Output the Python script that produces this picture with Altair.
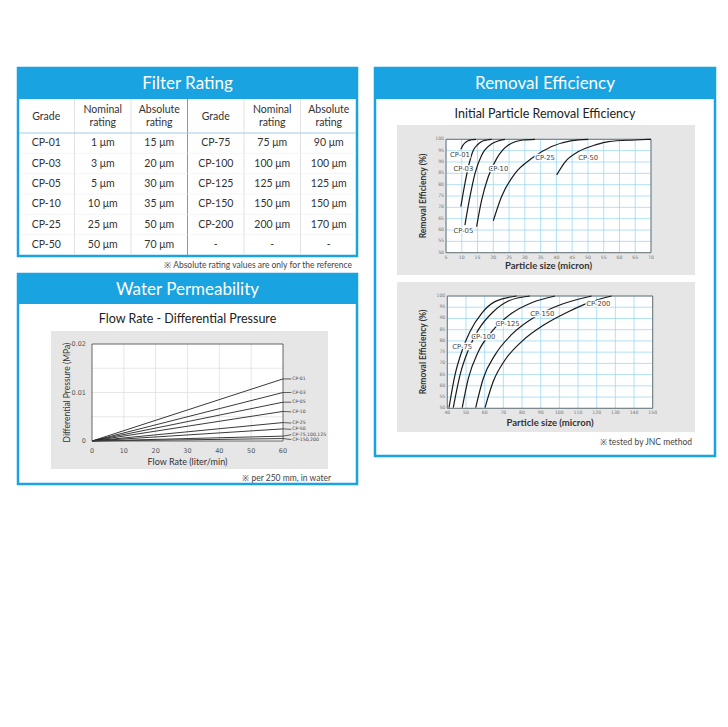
import altair as alt
import pandas as pd

# ---------------- data ----------------
table_header = ["Grade", "Nominal\nrating", "Absolute\nrating", "Grade", "Nominal\nrating", "Absolute\nrating"]
grade_left = ["CP-01", "CP-03", "CP-05", "CP-10", "CP-25", "CP-50"]
nominal_left = ["1 μm", "3 μm", "5 μm", "10 μm", "25 μm", "50 μm"]
absolute_left = ["15 μm", "20 μm", "30 μm", "35 μm", "50 μm", "70 μm"]
grade_right = ["CP-75", "CP-100", "CP-125", "CP-150", "CP-200", "-"]
nominal_right = ["75 μm", "100 μm", "125 μm", "150 μm", "200 μm", "-"]
absolute_right = ["90 μm", "100 μm", "125 μm", "150 μm", "170 μm", "-"]

wp_series = ["CP-01", "CP-03", "CP-05", "CP-10", "CP-25", "CP-50", "CP-75,100,125", "CP-150,200"]
wp_end = [0.0128, 0.0100, 0.0080, 0.0061, 0.0038, 0.0025, 0.0010, 0.0005]
wp_label_y = [0.0128, 0.0100, 0.0080, 0.0060, 0.0037, 0.0024, 0.0013, 0.0003]
wp_flow = [0, 60]
wp_x_ticks = [0, 10, 20, 30, 40, 50, 60]
wp_y_ticks = [0, 0.01, 0.02]
wp_y_tick_text = ["0", "0.01", "0.02"]
wp_x_grid = [10, 20, 30, 40, 50]
wp_y_grid = [0.005, 0.01, 0.015]

# removal efficiency, small grades
cp01_size = [9.7, 10.3, 11.0, 12.0, 13.0, 14.5]
cp01_eff = [95.6, 97.2, 98.4, 99.4, 99.8, 100]
cp03_size = [9.7, 10.8, 12.1, 13.7, 15.0, 16.3, 18.0, 19.5]
cp03_eff = [70.3, 79.0, 87.9, 95.3, 97.6, 99.0, 99.7, 100]
cp05_size = [11.0, 12.6, 14.2, 16.3, 19.5, 23.7]
cp05_eff = [62.2, 74.7, 85.0, 93.0, 98.0, 100]
cp10_size = [14.7, 16.3, 18.4, 21.1, 24.8, 29.5, 33.2]
cp10_eff = [61.5, 73.2, 83.5, 91.6, 97.5, 99.7, 100]
cp25_size = [20.0, 22.6, 26.9, 32.2, 38.5, 44.9, 50.1]
cp25_eff = [64.1, 74.7, 85.0, 91.6, 96.8, 99.4, 100]
cp50_size = [40.1, 42.8, 47.0, 52.3, 56.5, 64.9, 70.0]
cp50_eff = [84.3, 90.1, 94.6, 97.5, 99.0, 99.7, 100]
re1_labels = ["CP-01", "CP-03", "CP-05", "CP-10", "CP-25", "CP-50"]
re1_label_x = [9.4, 10.5, 10.5, 21.6, 36.4, 50.1]
re1_label_y = [93.1, 86.8, 59.7, 86.8, 91.9, 91.9]
re1_x_ticks = [5, 10, 15, 20, 25, 30, 35, 40, 45, 50, 55, 60, 65, 70]
re_y_ticks = [50, 55, 60, 65, 70, 75, 80, 85, 90, 95, 100]

# removal efficiency, large grades
cp75_size = [40.9, 44.1, 47.7, 52.1, 58.4, 65.5, 77.1]
cp75_eff = [50.3, 64.8, 75.2, 84.1, 92.3, 97.5, 100]
cp100_size = [43.2, 46.8, 51.3, 56.6, 64.6, 72.7, 84.3]
cp100_eff = [50.3, 64.8, 76.0, 84.9, 93.0, 97.8, 100]
cp125_size = [48.0, 51.3, 56.6, 63.8, 74.5, 85.2, 97.7]
cp125_eff = [50.3, 63.4, 75.2, 84.1, 92.3, 97.0, 100]
cp150_size = [55.2, 59.3, 65.5, 74.5, 87.0, 101.3, 117.3]
cp150_eff = [50.3, 63.4, 73.7, 82.9, 90.8, 96.3, 100]
cp200_size = [60.2, 64.6, 70.9, 79.8, 92.3, 104.8, 117.3, 128.0]
cp200_eff = [50.3, 61.9, 71.5, 79.7, 87.4, 93.0, 97.5, 100]
re2_labels = ["CP-75", "CP-100", "CP-125", "CP-150", "CP-200"]
re2_label_x = [48.0, 59.3, 72.3, 90.9, 120.9]
re2_label_y = [77.2, 81.9, 87.4, 92.0, 96.4]
re2_x_ticks = [40, 50, 60, 70, 80, 90, 100, 110, 120, 130, 140, 150]

# ---------------- styling ----------------
BLUE = "#19A3E1"
GRAY_PANEL = "#e6e6e6"
GRID_BLUE = "#8fd4f0"
TITLE_FONT = "Lato"
PLOT_FONT = "DejaVu Sans"
W, H = 712, 711
OFF = 8


def P(v):
    return v - OFF


one = pd.DataFrame({"k": [0]})


def rect(x0, y0, x1, y1, **kw):
    return alt.Chart(one).mark_rect(**kw).encode(
        x=alt.value(P(x0)), x2=alt.value(P(x1)), y=alt.value(P(y0)), y2=alt.value(P(y1)))


def rule(x0, y0, x1, y1, **kw):
    return alt.Chart(one).mark_rule(**kw).encode(
        x=alt.value(P(x0)), x2=alt.value(P(x1)), y=alt.value(P(y0)), y2=alt.value(P(y1)))


def label(x, y, text, **kw):
    return alt.Chart(one).mark_text(text=text, **kw).encode(x=alt.value(P(x)), y=alt.value(P(y)))


layers = []

# ---------------- frames ----------------
for (x0, y0, x1, y1, tb) in [(18, 68, 357, 256, 99), (18, 274, 357, 484, 304), (375, 68, 715, 456, 99)]:
    layers.append(rect(x0, y0, x1, y1, fill="white", stroke=BLUE, strokeWidth=2.5))
    layers.append(rect(x0, y0, x1, tb, fill=BLUE))

layers.append(label(187.5, 84, "Filter Rating", font=TITLE_FONT, fontSize=17, color="white", baseline="middle"))
layers.append(label(187.5, 289.5, "Water Permeability", font=TITLE_FONT, fontSize=17, color="white", baseline="middle"))
layers.append(label(545, 84, "Removal Efficiency", font=TITLE_FONT, fontSize=17, color="white", baseline="middle"))

# ---------------- filter rating table ----------------
col_w = (357 - 18) / 6
for k in range(1, 6):
    xk = 18 + k * col_w
    if k == 3:
        layers.append(rule(xk, 99, xk, 255, color="#7d9bb8", strokeWidth=1))
    else:
        layers.append(rule(xk, 99, xk, 255, color="#d9d9d9", strokeWidth=0.8))
row_h = (255 - 133) / 6
for k in range(1, 6):
    yk = 133 + k * row_h
    layers.append(rule(19, yk, 356, yk, color="#efefef", strokeWidth=0.6))
layers.append(rule(19, 133, 356, 133, color="#9fcbe8", strokeWidth=1.2))

cells = []
cols = [grade_left, nominal_left, absolute_left, grade_right, nominal_right, absolute_right]
for c, values in enumerate(cols):
    for r, v in enumerate(values):
        cells.append({"col": c, "row": r, "txt": v})
cells_df = pd.DataFrame(cells)
head_df = pd.DataFrame({"col": list(range(6)), "txt": table_header})
head_one = head_df[~head_df["txt"].str.contains("\n")]
head_two = head_df[head_df["txt"].str.contains("\n")]

tx_scale = alt.Scale(type="band", domain=list(range(6)), range=[P(18), P(357)], paddingInner=0, paddingOuter=0)
ty_scale = alt.Scale(type="band", domain=list(range(6)), range=[P(133), P(255)], paddingInner=0, paddingOuter=0)

table_body = alt.Chart(cells_df).mark_text(font=TITLE_FONT, fontSize=10.5, color="#333", baseline="middle").encode(
    x=alt.X("col:O", scale=tx_scale, axis=None, bandPosition=0.5),
    y=alt.Y("row:O", scale=ty_scale, axis=None, bandPosition=0.5),
    text="txt:N")
table_head1 = alt.Chart(head_one).mark_text(font=TITLE_FONT, fontSize=10.5, color="#333", baseline="middle").encode(
    x=alt.X("col:O", scale=tx_scale, axis=None, bandPosition=0.5),
    y=alt.value(P(117)),
    text="txt:N")
table_head2 = alt.Chart(head_two).mark_text(font=TITLE_FONT, fontSize=10.5, color="#333", baseline="middle",
                                            lineBreak="\n", lineHeight=12.5).encode(
    x=alt.X("col:O", scale=tx_scale, axis=None, bandPosition=0.5),
    y=alt.value(P(110)),
    text="txt:N")
layers.append(alt.layer(table_body, table_head1, table_head2))
layers.append(label(352, 264.5, "※  Absolute rating values are only for the reference", font=TITLE_FONT,
                    fontSize=8.5, color="#444", align="right", baseline="middle"))

# ---------------- water permeability ----------------
layers.append(label(187.5, 318.5, "Flow Rate - Differential Pressure", font=TITLE_FONT, fontSize=12.5,
                    color="#222", baseline="middle"))
layers.append(rect(51, 331, 328, 469, fill=GRAY_PANEL))
layers.append(label(331, 477.5, "※  per 250 mm,  in water", font=TITLE_FONT, fontSize=8.5, color="#444",
                    align="right", baseline="middle"))
layers.append(label(187.5, 462, "Flow Rate (liter/min)", font=TITLE_FONT, fontSize=9, color="#333",
                    baseline="middle"))
layers.append(label(66.5, 392.5, "Differential Pressure (MPa)", font=TITLE_FONT, fontSize=8.5, color="#333",
                    baseline="middle", angle=270))

wx = alt.Scale(domain=[0, 60], range=[P(92), P(283)], nice=False, zero=False)
wy = alt.Scale(domain=[0, 0.02], range=[P(441), P(344)], nice=False, zero=False)

wp_rows = []
for s, e in zip(wp_series, wp_end):
    for f in wp_flow:
        wp_rows.append({"series": s, "flow": f, "dp": e * f / wp_flow[-1]})
wp_df = pd.DataFrame(wp_rows)
wp_lab_df = pd.DataFrame({"series": wp_series, "end": wp_end, "lab": wp_label_y})

wp_bg = alt.Chart(one).mark_rect(fill="white").encode(
    x=alt.datum(0, scale=wx, axis=None), x2=alt.datum(60),
    y=alt.datum(0, scale=wy, axis=None), y2=alt.datum(0.02))
wp_gx = alt.Chart(pd.DataFrame({"g": wp_x_grid})).mark_rule(color="#dcdcdc", strokeWidth=0.7).encode(
    x=alt.X("g:Q", scale=wx, axis=None), y=alt.datum(0, scale=wy, axis=None), y2=alt.datum(0.02))
wp_gy = alt.Chart(pd.DataFrame({"g": wp_y_grid})).mark_rule(color="#dcdcdc", strokeWidth=0.7).encode(
    y=alt.Y("g:Q", scale=wy, axis=None), x=alt.datum(0, scale=wx, axis=None), x2=alt.datum(60))
wp_border = alt.Chart(one).mark_rect(filled=False, stroke="#555", strokeWidth=0.9).encode(
    x=alt.datum(0, scale=wx, axis=None), x2=alt.datum(60),
    y=alt.datum(0, scale=wy, axis=None), y2=alt.datum(0.02))
wp_lines = alt.Chart(wp_df).mark_line(color="#222", strokeWidth=0.9).encode(
    x=alt.X("flow:Q", scale=wx, axis=None),
    y=alt.Y("dp:Q", scale=wy, axis=None),
    detail="series:N")
wp_xlab = alt.Chart(pd.DataFrame({"t": wp_x_ticks})).mark_text(
    font=PLOT_FONT, fontSize=6.5, color="#555", baseline="middle", dy=10).encode(
    x=alt.X("t:Q", scale=wx, axis=None), y=alt.datum(0, scale=wy, axis=None), text="t:Q")
wp_ylab = alt.Chart(pd.DataFrame({"t": wp_y_ticks, "s": wp_y_tick_text})).mark_text(
    font=PLOT_FONT, fontSize=6.5, color="#555", baseline="middle", align="right", dx=-6).encode(
    y=alt.Y("t:Q", scale=wy, axis=None), x=alt.datum(0, scale=wx, axis=None), text="s:N")
wp_leaders = alt.Chart(wp_lab_df).mark_rule(color="#222", strokeWidth=0.7).encode(
    x=alt.datum(60, scale=wx, axis=None), x2=alt.datum(62.6),
    y=alt.Y("end:Q", scale=wy, axis=None), y2="lab:Q")
wp_text = alt.Chart(wp_lab_df).mark_text(font=PLOT_FONT, fontSize=4.6, color="#444", align="left",
                                          baseline="middle", dx=1).encode(
    x=alt.datum(62.6, scale=wx, axis=None),
    y=alt.Y("lab:Q", scale=wy, axis=None),
    text="series:N")
layers.append(alt.layer(wp_bg, wp_gx, wp_gy, wp_lines, wp_border, wp_leaders, wp_text, wp_xlab, wp_ylab))

# ---------------- removal efficiency ----------------
layers.append(label(545, 113.5, "Initial Particle Removal Efficiency", font=TITLE_FONT, fontSize=12.5,
                    color="#222", baseline="middle"))
layers.append(rect(397, 125, 695, 275, fill=GRAY_PANEL))
layers.append(rect(397, 282, 695, 432, fill=GRAY_PANEL))
layers.append(label(692, 441.5, "※  tested by JNC method", font=TITLE_FONT, fontSize=8.5, color="#444",
                    align="right", baseline="middle"))
for (tx, ty, yy) in [(548.5, 266, 196), (550, 422.5, 352)]:
    layers.append(label(tx, ty, "Particle size (micron)", font=TITLE_FONT, fontSize=9.5, fontWeight="bold",
                        color="#333", baseline="middle"))
    layers.append(label(423, yy, "Removal Efficiency (%)", font=TITLE_FONT, fontSize=8.5, fontWeight="bold",
                        color="#333", baseline="middle", angle=270))


def removal_plot(curves, names, lab_x, lab_y, lab_names, x_dom, x_ticks, x_px, y_px):
    xs = alt.Scale(domain=x_dom, range=[P(x_px[0]), P(x_px[1])], nice=False, zero=False)
    ys = alt.Scale(domain=[50, 100], range=[P(y_px[0]), P(y_px[1])], nice=False, zero=False)
    rows = []
    for name, (sx, sy) in zip(names, curves):
        for i, (a, b) in enumerate(zip(sx, sy)):
            rows.append({"series": name, "i": i, "size": a, "eff": b})
    cdf = pd.DataFrame(rows)
    ldf = pd.DataFrame({"name": lab_names, "lx": lab_x, "ly": lab_y})
    bg = alt.Chart(one).mark_rect(fill="white").encode(
        x=alt.datum(x_dom[0], scale=xs, axis=None), x2=alt.datum(x_dom[1]),
        y=alt.datum(50, scale=ys, axis=None), y2=alt.datum(100))
    gx = alt.Chart(pd.DataFrame({"g": x_ticks})).mark_rule(color=GRID_BLUE, strokeWidth=0.7).encode(
        x=alt.X("g:Q", scale=xs, axis=None), y=alt.datum(50, scale=ys, axis=None), y2=alt.datum(100))
    gy = alt.Chart(pd.DataFrame({"g": re_y_ticks})).mark_rule(color=GRID_BLUE, strokeWidth=0.7).encode(
        y=alt.Y("g:Q", scale=ys, axis=None), x=alt.datum(x_dom[0], scale=xs, axis=None), x2=alt.datum(x_dom[1]))
    border = alt.Chart(one).mark_rect(filled=False, stroke="#666", strokeWidth=0.9).encode(
        x=alt.datum(x_dom[0], scale=xs, axis=None), x2=alt.datum(x_dom[1]),
        y=alt.datum(50, scale=ys, axis=None), y2=alt.datum(100))
    lines = alt.Chart(cdf).mark_line(color="#1a1a1a", strokeWidth=1.2, interpolate="monotone").encode(
        x=alt.X("size:Q", scale=xs, axis=None),
        y=alt.Y("eff:Q", scale=ys, axis=None),
        detail="series:N", order="i:Q")
    xlab = alt.Chart(pd.DataFrame({"t": x_ticks})).mark_text(
        font=PLOT_FONT, fontSize=4.6, color="#777", baseline="middle", dy=5).encode(
        x=alt.X("t:Q", scale=xs, axis=None), y=alt.datum(50, scale=ys, axis=None), text="t:Q")
    ylab = alt.Chart(pd.DataFrame({"t": re_y_ticks})).mark_text(
        font=PLOT_FONT, fontSize=4.6, color="#777", baseline="middle", align="right", dx=-2).encode(
        y=alt.Y("t:Q", scale=ys, axis=None), x=alt.datum(x_dom[0], scale=xs, axis=None), text="t:Q")
    halo = alt.Chart(ldf).mark_text(font=PLOT_FONT, fontSize=6.8, color="white", stroke="white",
                                     strokeWidth=2.5, baseline="middle").encode(
        x=alt.X("lx:Q", scale=xs, axis=None), y=alt.Y("ly:Q", scale=ys, axis=None), text="name:N")
    labs = alt.Chart(ldf).mark_text(font=PLOT_FONT, fontSize=6.8, color="#444", baseline="middle").encode(
        x=alt.X("lx:Q", scale=xs, axis=None), y=alt.Y("ly:Q", scale=ys, axis=None), text="name:N")
    return alt.layer(bg, gx, gy, border, lines, halo, labs, xlab, ylab)


layers.append(removal_plot(
    [(cp01_size, cp01_eff), (cp03_size, cp03_eff), (cp05_size, cp05_eff), (cp10_size, cp10_eff),
     (cp25_size, cp25_eff), (cp50_size, cp50_eff)],
    ["CP-01", "CP-03", "CP-05", "CP-10", "CP-25", "CP-50"],
    re1_label_x, re1_label_y, re1_labels, [5, 70], re1_x_ticks, (446, 651), (252.7, 139.3)))
layers.append(removal_plot(
    [(cp75_size, cp75_eff), (cp100_size, cp100_eff), (cp125_size, cp125_eff), (cp150_size, cp150_eff),
     (cp200_size, cp200_eff)],
    ["CP-75", "CP-100", "CP-125", "CP-150", "CP-200"],
    re2_label_x, re2_label_y, re2_labels, [40, 150], re2_x_ticks, (447.3, 652.7), (408.3, 296)))

chart = alt.layer(*layers).resolve_scale(x="independent", y="independent").properties(
    width=W, height=H, autosize=alt.AutoSizeParams(type="none"), padding=0, background="white"
).configure_view(stroke=None, strokeWidth=0)

chart.save("out.html", embed_options={"renderer": "svg", "actions": False})
